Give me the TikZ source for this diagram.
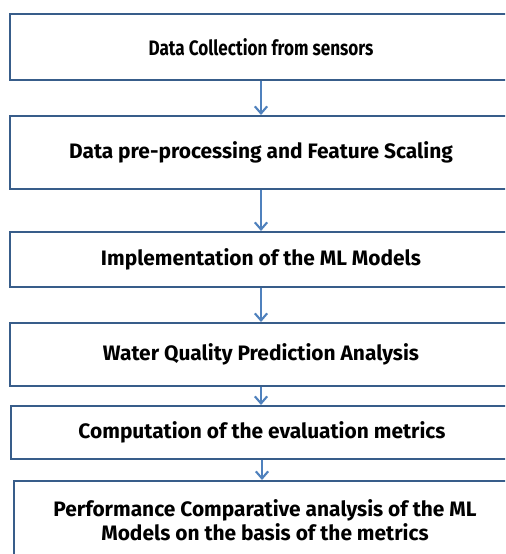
\documentclass[tikz,border=0pt]{standalone}
\usepackage{fontspec}
\setmainfont{Fira Sans}
\usetikzlibrary{arrows.meta}

\definecolor{boxblue}{RGB}{56,93,138}
\definecolor{arrowblue}{RGB}{79,129,189}

\tikzset{
    stagebox/.style={draw=boxblue, line width=1.2pt, inner sep=0pt, anchor=north west,
        minimum width=10.04cm, align=center, font=\bfseries\fontsize{11.9}{13.6}\selectfont},
    flowarrow/.style={-{Straight Barb[length=4pt, width=7pt]}, draw=arrowblue, line width=1.2pt}
}

\begin{document}
\begin{tikzpicture}[x=0.02cm, y=-0.02cm]
    \useasboundingbox (0,0) rectangle (505,554);
    \clip (0,0) rectangle (505,554);

    \node[stagebox, minimum height=1.32cm] (collect) at (9,13) {\scalebox{0.82}[1]{Data Collection from sensors}};
    \node[stagebox, minimum height=1.46cm] (prep) at (9,115) {Data pre-processing and Feature Scaling};
    \node[stagebox, minimum height=1.10cm] (models) at (9,231) {Implementation of the ML Models};
    \node[stagebox, minimum height=1.26cm] (predict) at (9,322) {Water Quality Prediction Analysis};
    \node[stagebox, minimum height=1.06cm] (metrics) at (10,405) {Computation of the evaluation metrics};
    \node[stagebox, minimum height=1.56cm] (compare) at (13,480) {Performance Comparative analysis of the ML\\Models on the basis of the metrics};

    \draw[flowarrow] (collect.south) -- (collect.south |- prep.north);
    \draw[flowarrow] (prep.south) -- (prep.south |- models.north);
    \draw[flowarrow] (models.south) -- (models.south |- predict.north);
    \draw[flowarrow] (predict.south) -- (predict.south |- metrics.north);
    \draw[flowarrow] (metrics.south) -- (metrics.south |- compare.north);
\end{tikzpicture}
\end{document}
